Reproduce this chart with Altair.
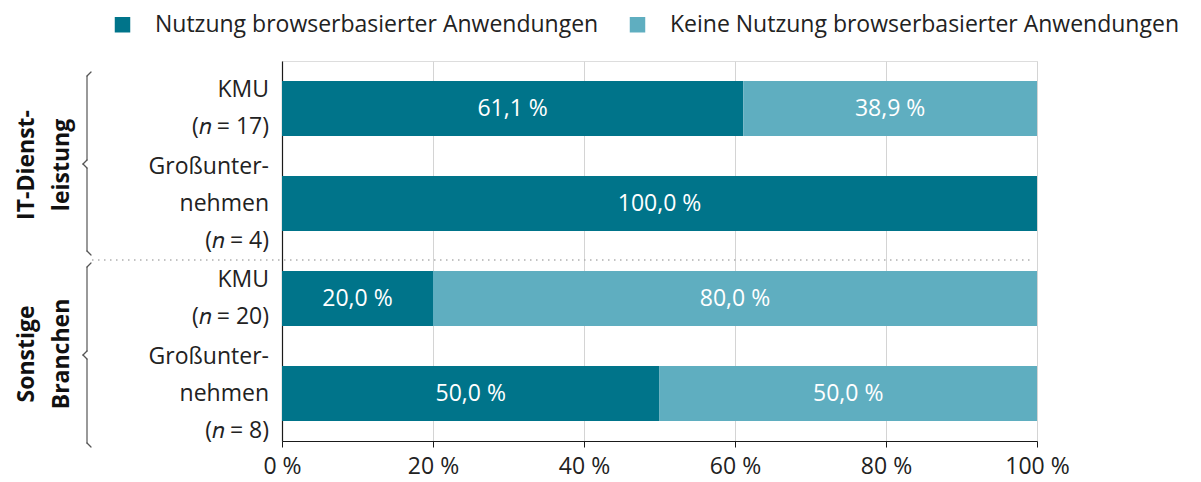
import altair as alt
import pandas as pd

categories = ["KMU\n(𝑛 = 17)", "Großunter-\nnehmen\n(𝑛 = 4)", "KMU \n(𝑛 = 20)", "Großunter-\nnehmen \n(𝑛 = 8)"]
series = ["Nutzung browserbasierter Anwendungen", "Keine Nutzung browserbasierter Anwendungen"]
nutzung = [61.1, 100.0, 20.0, 50.0]
keine = [38.9, 0.0, 80.0, 50.0]
x_ticks = [0, 20, 40, 60, 80, 100]
groups = ["IT-Dienst-\nleistung", "Sonstige\nBranchen"]

colors = ["#00748a", "#5faec0"]
FONT = "Open Sans"
W, H = 755, 380
LH = 37

rows = []
for i, c in enumerate(categories):
    rows.append({"cat": c, "series": series[0], "value": nutzung[i], "o": 0})
    rows.append({"cat": c, "series": series[1], "value": keine[i], "o": 1})
df = pd.DataFrame(rows)

ysc = alt.Scale(domain=categories, paddingInner=0.42, paddingOuter=0.21)

base = alt.Chart(df).transform_stack(
    stack="value", groupby=["cat"], as_=["x0", "x1"], sort=[alt.SortField("o", order="ascending")]
)

bars = base.mark_bar().encode(
    x=alt.X("x0:Q", scale=alt.Scale(domain=[0, 100], nice=False),
            axis=alt.Axis(values=x_ticks, title=None, grid=True, gridColor="#d4d4d4", gridWidth=1,
                          domainColor="#1a1a1a", tickColor="#1a1a1a", tickSize=6, domainWidth=1.2,
                          labelExpr="datum.value + ' %'", labelFontSize=23, labelFont=FONT,
                          labelColor="#222", labelPadding=8, labelFlush=False)),
    x2="x1:Q",
    y=alt.Y("cat:N", scale=ysc, sort=categories,
            axis=alt.Axis(labels=False, ticks=False, title=None, domainColor="#1a1a1a", domainWidth=1.2)),
    color=alt.Color("series:N", scale=alt.Scale(domain=series, range=colors),
                    legend=alt.Legend(title=None, orient="none", legendX=-171, legendY=-48,
                                      direction="horizontal", symbolType="square", symbolSize=240,
                                      symbolStrokeWidth=0, labelFontSize=23, labelFont=FONT,
                                      labelColor="#222", labelOffset=21, columnPadding=27,
                                      labelLimit=700, padding=0)),
)

labels = base.transform_filter("datum.value > 0").transform_calculate(
    mid="(datum.x0 + datum.x1) / 2",
    lab="replace(format(datum.value, '.1f'), '.', ',') + ' %'",
).mark_text(color="white", fontSize=23, font=FONT).encode(
    x="mid:Q",
    y=alt.Y("cat:N", scale=ysc, sort=categories),
    text="lab:N",
)

ylab_df = pd.DataFrame({"cat": categories})

def ylabels(nlines):
    return alt.Chart(ylab_df).transform_filter(
        f"length(split(datum.cat, '\\n')) == {nlines}"
    ).mark_text(
        align="right", baseline="middle", lineBreak="\n", lineHeight=LH, fontSize=23, font=FONT,
        color="#222", dy=-(nlines - 1) * LH / 2
    ).encode(
        x=alt.value(-13),
        y=alt.Y("cat:N", scale=ysc, sort=categories),
        text="cat:N",
    )

one = pd.DataFrame({"k": [0]})

def glabel(text, yv):
    return alt.Chart(one).mark_text(
        text=text, angle=270, fontWeight="bold", fontSize=23, font=FONT, lineBreak="\n",
        lineHeight=35, color="#111", align="center", baseline="middle"
    ).encode(x=alt.value(-255), y=alt.value(yv))

def seg(x1, y1, x2, y2):
    return alt.Chart(one).mark_rule(color="#555", strokeWidth=1.2, strokeCap="round").encode(
        x=alt.value(x1), y=alt.value(y1), x2=alt.value(x2), y2=alt.value(y2))

def brace(t, m, b, mx=-195, hx=-191, tx=-199):
    return [seg(hx, t, mx, t + 4), seg(mx, t + 4, mx, m - 4), seg(mx, m - 4, tx, m),
            seg(tx, m, mx, m + 4), seg(mx, m + 4, mx, b - 4), seg(mx, b - 4, hx, b)]

sep = alt.Chart(one).mark_rule(color="#b0b0b0", strokeWidth=1.5, strokeDash=[1.5, 4.5]).encode(
    x=alt.value(-190), x2=alt.value(748), y=alt.value(199))

layers = [bars, labels, ylabels(2), ylabels(3), sep, glabel(groups[0], 104), glabel(groups[1], 293)]
layers += brace(11, 103, 194) + brace(202, 294, 386)

chart = alt.layer(*layers).properties(
    width=W, height=H,
    autosize=alt.AutoSizeParams(type="none"),
    padding={"left": 274, "top": 53, "right": 156, "bottom": 41},
).configure_view(stroke=None).configure(font=FONT)

chart.save("out.html", embed_options={"renderer": "svg", "actions": False})
